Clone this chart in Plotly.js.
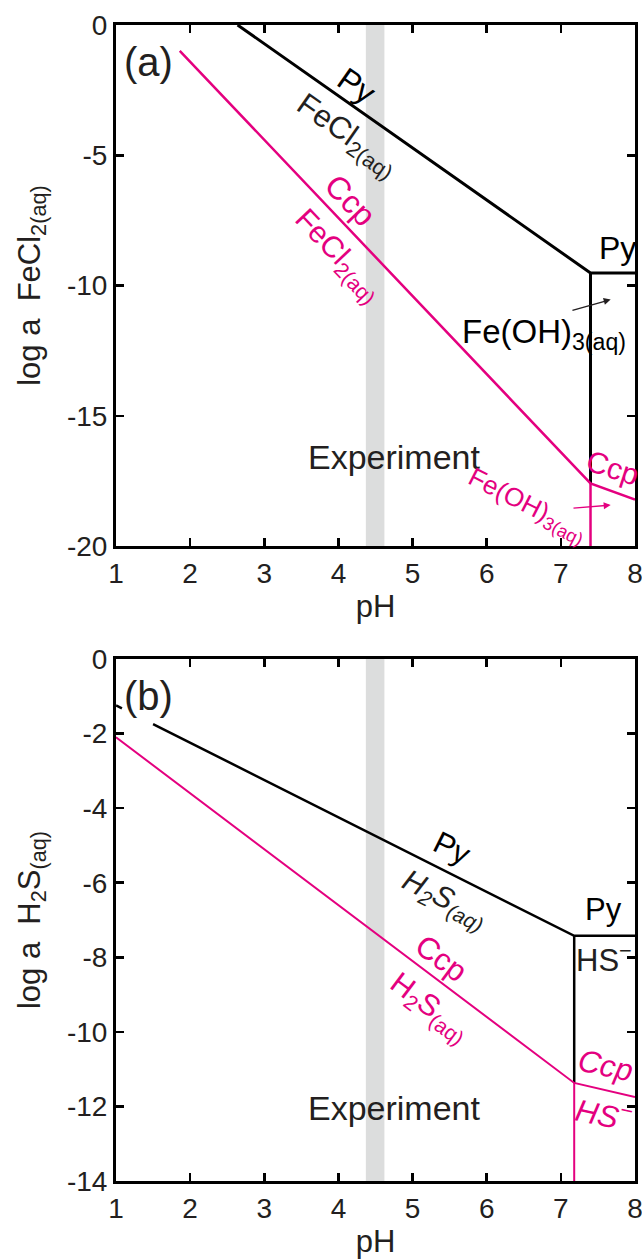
<!DOCTYPE html>
<html>
<head>
<meta charset="utf-8">
<script src="https://cdn.plot.ly/plotly-3.0.1.min.js"></script>
<style>html,body{margin:0;padding:0;background:#fff;}#chart{width:642px;height:1260px;}</style>
</head>
<body>
<div id="chart"></div>
<script>
// ---- data ----
const experimentBand = [4.37, 4.62];
// Panel (a): log a FeCl2(aq) vs pH
const aPyX = [2.64, 7.40, 8.0];
const aPyY = [0, -9.52, -9.52];
const aPyVertX = [7.40, 7.40];
const aPyVertY = [-9.52, -17.6];
const aCcpX = [1.86, 7.40, 8.0];
const aCcpY = [-0.99, -17.6, -18.22];
const aCcpVertX = [7.40, 7.40];
const aCcpVertY = [-17.6, -20];
// Panel (b): log a H2S(aq) vs pH
const bPyX = [1.0, 1.08, null, 1.5, 7.18, 8.0];
const bPyY = [-1.245, -1.325, null, -1.745, -7.425, -7.425];
const bPyVertX = [7.18, 7.18];
const bPyVertY = [-7.425, -11.37];
const bCcpX = [1.0, 7.18, 8.0];
const bCcpY = [-2.10, -11.37, -11.75];
const bCcpVertX = [7.18, 7.18];
const bCcpVertY = [-11.37, -14];
const xTicks = [1, 2, 3, 4, 5, 6, 7, 8];
const aYTicks = [0, -5, -10, -15, -20];
const bYTicks = [0, -2, -4, -6, -8, -10, -12, -14];

// ---- style ----
const FONT = 'Liberation Sans, Arial, Helvetica, sans-serif';
const BLACK = '#000000';
const TXT = '#231f20';
const PINK = '#e4007f';

function line(x, y, color, width, xa, ya) {
  return {x: x, y: y, xaxis: xa, yaxis: ya, type: 'scatter', mode: 'lines',
    line: {color: color, width: width}, hoverinfo: 'skip', showlegend: false, connectgaps: false};
}

const traces = [
  line(aPyX, aPyY, BLACK, 3, 'x', 'y'),
  line(aPyVertX, aPyVertY, BLACK, 3, 'x', 'y'),
  line(aCcpX, aCcpY, PINK, 2.5, 'x', 'y'),
  line(aCcpVertX, aCcpVertY, PINK, 2.5, 'x', 'y'),
  line(bPyX, bPyY, BLACK, 2.5, 'x2', 'y2'),
  line(bPyVertX, bPyVertY, BLACK, 2.5, 'x2', 'y2'),
  line(bCcpX, bCcpY, PINK, 2, 'x2', 'y2'),
  line(bCcpVertX, bCcpVertY, PINK, 2, 'x2', 'y2')
];

function axisBase() {
  return {
    showline: true, linecolor: BLACK, linewidth: 3, mirror: 'ticks',
    ticks: 'inside', ticklen: 8, tickwidth: 2.5, tickcolor: BLACK,
    showgrid: false, zeroline: false, ticklabeloverflow: 'allow',
    tickfont: {family: FONT, size: 28, color: TXT},
    fixedrange: true
  };
}

const xa = Object.assign(axisBase(), {
  domain: [116/642, 635/642], anchor: 'y', range: [1, 8],
  tickvals: xTicks, ticktext: xTicks.map(String),
  title: {text: 'pH', font: {family: FONT, size: 31, color: TXT}, standoff: 8}
});
const xa2 = Object.assign(axisBase(), {
  domain: [116/642, 635/642], anchor: 'y2', range: [1, 8],
  tickvals: xTicks, ticktext: xTicks.map(String),
  title: {text: 'pH', font: {family: FONT, size: 31, color: TXT}, standoff: 8}
});
const ya = Object.assign(axisBase(), {
  domain: [1 - 546/1260, 1 - 25/1260], anchor: 'x', range: [-20, 0],
  tickvals: aYTicks, ticktext: aYTicks.map(String),
  title: {text: 'log a  FeCl<sub>2(aq)</sub>', font: {family: FONT, size: 31, color: TXT}, standoff: 18}
});
const ya2 = Object.assign(axisBase(), {
  domain: [1 - 1181/1260, 1 - 659/1260], anchor: 'x2', range: [-14, 0],
  tickvals: bYTicks, ticktext: bYTicks.map(String),
  title: {text: 'log a  H<sub>2</sub>S<sub>(aq)</sub>', font: {family: FONT, size: 31, color: TXT}, standoff: 18}
});

function lab(text, x, y, size, color, angle, xr, yr, extra) {
  return Object.assign({text: text, x: x, y: y, xref: xr, yref: yr, showarrow: false,
    textangle: angle || 0, xanchor: 'center', yanchor: 'middle',
    font: {family: FONT, size: size, color: color}}, extra || {});
}
function arrow(x, y, ax, ay, color, xr, yr) {
  return {text: '', x: x, y: y, ax: ax, ay: ay, xref: xr, yref: yr, axref: xr, ayref: yr,
    showarrow: true, arrowhead: 2, arrowsize: 1, arrowwidth: 1.4, arrowcolor: color};
}

const annotations = [
  // panel a
  lab('(a)', 1.443, -1.42, 40, TXT, 0, 'x', 'y'),
  lab('Py', 4.25, -2.34, 32, BLACK, 35, 'x', 'y'),
  lab('FeCl<sub>2(aq)</sub>', 4.12, -4.25, 31, TXT, 35, 'x', 'y'),
  lab('Ccp', 4.157, -6.72, 32, PINK, 46.4, 'x', 'y'),
  lab('FeCl<sub>2(aq)</sub>', 4.0, -8.85, 30, PINK, 46.4, 'x', 'y'),
  lab('Py', 7.76, -8.56, 32, BLACK, 0, 'x', 'y'),
  lab('Fe(OH)<sub>3(aq)</sub>', 5.64, -11.85, 33, BLACK, 0, 'x', 'y', {xanchor: 'left'}),
  arrow(7.672, -10.54, 7.136, -10.97, TXT, 'x', 'y'),
  lab('Experiment', 4.75, -16.58, 34, TXT, 0, 'x', 'y'),
  lab('Ccp', 7.69, -17.0, 30, PINK, 18, 'x', 'y'),
  lab('Fe(OH)<sub>3(aq)</sub>', 6.55, -18.43, 26, PINK, 27, 'x', 'y'),
  arrow(7.672, -18.43, 7.15, -18.55, PINK, 'x', 'y'),
  // panel b
  lab('(b)', 1.443, -0.99, 40, TXT, 0, 'x2', 'y2'),
  lab('Py', 5.54, -5.07, 31, BLACK, 26.6, 'x2', 'y2'),
  lab('<i>H<sub>2</sub>S<sub>(aq)</sub></i>', 5.434, -6.46, 30, TXT, 26.6, 'x2', 'y2'),
  lab('Py', 7.58, -6.73, 31, BLACK, 0, 'x2', 'y2'),
  lab('HS<sup>\u2212</sup>', 7.58, -8.02, 31, TXT, 0, 'x2', 'y2'),
  lab('Ccp', 5.393, -8.02, 31, PINK, 36.9, 'x2', 'y2'),
  lab('H<sub>2</sub>S<sub>(aq)</sub>', 5.232, -9.36, 30, PINK, 36.9, 'x2', 'y2'),
  lab('Experiment', 4.76, -12.04, 34, TXT, 0, 'x2', 'y2'),
  lab('<i>Ccp</i>', 7.60, -10.91, 31, PINK, 12, 'x2', 'y2'),
  lab('<i>HS<sup>\u2212</sup></i>', 7.58, -12.17, 31, PINK, 12, 'x2', 'y2')
];

const shapes = [
  {type: 'rect', xref: 'x', yref: 'y domain', x0: experimentBand[0], x1: experimentBand[1], y0: 0, y1: 1,
   fillcolor: '#dcdddd', line: {width: 0}, layer: 'below'},
  {type: 'rect', xref: 'x2', yref: 'y2 domain', x0: experimentBand[0], x1: experimentBand[1], y0: 0, y1: 1,
   fillcolor: '#dcdddd', line: {width: 0}, layer: 'below'}
];

const layout = {
  width: 642, height: 1260,
  margin: {l: 0, r: 0, t: 0, b: 0},
  paper_bgcolor: '#ffffff', plot_bgcolor: 'rgba(0,0,0,0)',
  showlegend: false,
  xaxis: xa, yaxis: ya, xaxis2: xa2, yaxis2: ya2,
  annotations: annotations, shapes: shapes,
  font: {family: FONT, color: TXT}
};

Plotly.newPlot('chart', traces, layout, {staticPlot: true, displayModeBar: false});
</script>
</body>
</html>
